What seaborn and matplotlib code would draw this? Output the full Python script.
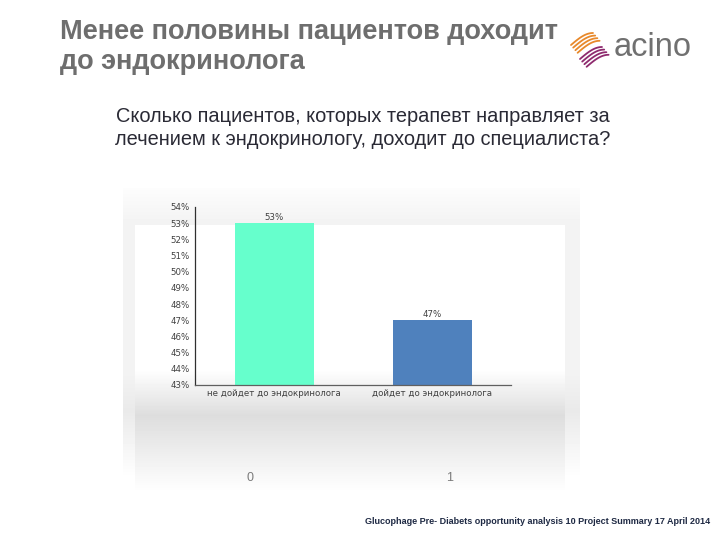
import numpy as np
import pandas as pd
import matplotlib
matplotlib.use("Agg")
import matplotlib.pyplot as plt
import seaborn as sns

# ---- data ----
categories = ["не дойдет до эндокринолога", "дойдет до эндокринолога"]
values = [53, 47]
value_labels = ["53%", "47%"]
bar_colors = ["#66FFCC", "#4F81BD"]
y_ticks = list(range(43, 55))
y_tick_labels = [f"{v}%" for v in y_ticks]
index_labels = ["0", "1"]

title = "Менее половины пациентов доходит\nдо эндокринолога"
subtitle = ("Сколько пациентов, которых терапевт направляет за\n"
            "лечением к эндокринологу, доходит до специалиста?")
footer = "Glucophage Pre- Diabets opportunity analysis 10 Project Summary 17 April 2014"

sns.set_theme(style="white")
plt.rcParams["font.family"] = ["Liberation Sans", "DejaVu Sans"]

W, H = 720, 540
fig = plt.figure(figsize=(7.2, 5.4), dpi=100)
fig.patch.set_facecolor("white")

# ---- background panel (figure level, pixel coords) ----
bg = fig.add_axes([0, 0, 1, 1], zorder=0)
bg.set_xlim(0, W)
bg.set_ylim(H, 0)
bg.axis("off")

img = np.ones((H, W))
ys = np.arange(H)
prof = np.ones(H)
for y in ys:
    if 188 <= y < 225:
        prof[y] = 0.99 - 0.04 * (y - 188) / 37
    elif 225 <= y < 370:
        prof[y] = 0.997
    elif 370 <= y < 415:
        prof[y] = 0.997 - 0.13 * (y - 370) / 45
    elif 415 <= y < 490:
        prof[y] = 0.867 + 0.13 * (y - 415) / 75
img[:, 135:565] = prof[:, None]
side = np.ones(H)
for y in ys:
    if 188 <= y < 225:
        side[y] = prof[y]
    elif 225 <= y < 370:
        side[y] = 0.955
    elif 370 <= y < 410:
        side[y] = 0.955 - 0.04 * (y - 370) / 40
    elif 410 <= y < 478:
        side[y] = 0.915 + 0.085 * (y - 410) / 68
img[:, 123:135] = side[:, None]
img[:, 565:580] = side[:, None]
bg.imshow(img, cmap="gray", vmin=0, vmax=1, extent=(0, W, H, 0), aspect="auto",
          interpolation="bilinear")

# ---- logo ----
t = np.linspace(0, 1, 30)
shape = np.sin(np.pi / 2 * t)
for i in range(4):
    x = 571 + 2.2 * i + 22 * t
    y = 45 + 2.6 * i - 12 * shape
    bg.plot(x, y, color="#E8892B", lw=1.3, solid_capstyle="round")
for i in range(4):
    x = 580 + 2.2 * i + 22 * t
    y = 59 + 2.6 * i - 12 * shape
    bg.plot(x, y, color="#8E2A6E", lw=1.3, solid_capstyle="round")
bg.text(614, 47, "acino", fontsize=23.5, color="#707070", ha="left", va="center")

# ---- texts ----
fig.text(60 / W, 1 - 19 / H, title, fontsize=19.5, fontweight="bold", color="#6E6E6E",
         ha="left", va="top", linespacing=1.2)
fig.text(363 / W, 1 - 107 / H, subtitle, fontsize=14.4, color="#2A2A35",
         ha="center", va="top", linespacing=1.25)
fig.text(710 / W, 1 - 521 / H, footer, fontsize=6.45, fontweight="bold", color="#1F2A44",
         ha="right", va="center")
for lbl, px in zip(index_labels, [250, 450]):
    fig.text(px / W, 1 - 478 / H, lbl, fontsize=9, color="#7A7A7A", ha="center", va="center")

# ---- chart ----
ax = fig.add_axes([195 / W, 1 - 385 / H, (511 - 195) / W, (385 - 207) / H], zorder=2)
ax.patch.set_alpha(0)
df = pd.DataFrame({"cat": categories, "val": values})
sns.barplot(data=df, x="cat", y="val", hue="cat", palette=bar_colors, width=0.5,
            ax=ax, legend=False, saturation=1, edgecolor="none")
ax.set_xlim(-0.5, 1.5)
ax.set_ylim(43, 54)
ax.set_xlabel("")
ax.set_ylabel("")
ax.set_yticks(y_ticks)
ax.set_yticklabels(y_tick_labels, fontsize=6.2, color="#404040", family="DejaVu Sans")
ax.set_xticks([-0.5, 0.5, 1.5])
ax.set_xticklabels([])
ax.set_xticks([0, 1], minor=True)
ax.set_xticklabels(categories, minor=True, fontsize=6.2, color="#404040", family="DejaVu Sans")
ax.tick_params(axis="x", which="minor", length=0, pad=3)
ax.tick_params(axis="x", which="major", length=4, width=0.8, color="#303030", direction="out")
ax.tick_params(axis="y", length=3, width=0.8, color="#303030", direction="out", pad=1)
for s in ["top", "right"]:
    ax.spines[s].set_visible(False)
ax.spines["left"].set_color("#303030")
ax.spines["bottom"].set_color("#606060")
ax.spines["left"].set_linewidth(0.9)
ax.spines["bottom"].set_linewidth(0.9)
for i, (v, lbl) in enumerate(zip(values, value_labels)):
    ax.annotate(lbl, (i, v), xytext=(0, 1), textcoords="offset points", ha="center",
                va="bottom", fontsize=6.2, color="#404040", family="DejaVu Sans")

fig.savefig("out.png", dpi=100)
